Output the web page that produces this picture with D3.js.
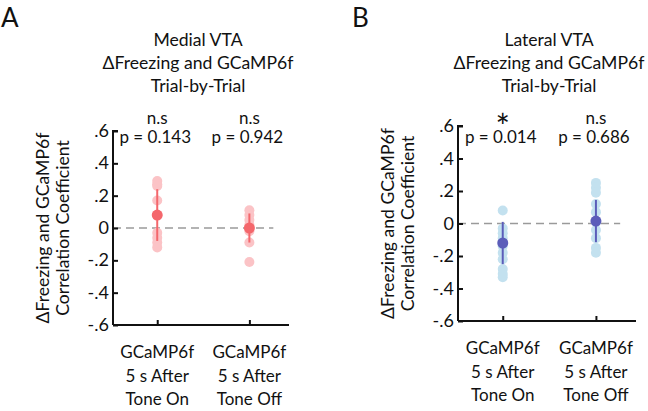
<!DOCTYPE html>
<html>
<head>
<meta charset="utf-8">
<script src="https://cdn.jsdelivr.net/npm/d3@7"></script>
<style>
  html, body { margin: 0; padding: 0; background: #fff; }
  svg { display: block; }
  text { font-family: Lato, "Open Sans", sans-serif; fill: #111; }
</style>
</head>
<body>
<svg id="chart" width="648" height="411"></svg>
<script>
// ---------- data ----------
const categories = ["GCaMP6f|5 s After|Tone On", "GCaMP6f|5 s After|Tone Off"];
const yTicks = [-0.6, -0.4, -0.2, 0, 0.2, 0.4, 0.6];
const yTickLabels = ["-.6", "-.4", "-.2", "0", ".2", ".4", ".6"];

const medialToneOn  = [0.29, 0.27, 0.26, 0.17, 0.08, -0.03, -0.06, -0.09, -0.12];
const medialToneOff = [0.11, 0.08, 0.05, 0.02, 0.0, -0.02, -0.09, -0.21];
const medialMean = [0.08, 0.0];
const medialErr  = [0.16, 0.09];
const medialSig  = ["n.s", "n.s"];
const medialP    = ["p = 0.143", "p = 0.942"];

const lateralToneOn  = [0.08, -0.03, -0.06, -0.09, -0.14, -0.18, -0.22, -0.28, -0.31, -0.33];
const lateralToneOff = [0.25, 0.22, 0.19, 0.12, 0.07, 0.01, -0.04, -0.09, -0.15, -0.18];
const lateralMean = [-0.12, 0.015];
const lateralErr  = [0.13, 0.13];
const lateralSig  = ["*", "n.s"];
const lateralP    = ["p = 0.014", "p = 0.686"];

const titlesA = ["Medial VTA", "\u0394Freezing and GCaMP6f", "Trial-by-Trial"];
const titlesB = ["Lateral VTA", "\u0394Freezing and GCaMP6f", "Trial-by-Trial"];
const yLabel = ["\u0394Freezing and GCaMP6f", "Correlation Coefficient"];

// ---------- drawing ----------
const svg = d3.select("#chart");
const FS = 17;

function panel(cfg) {
  const g = svg.append("g");
  const x = d3.scaleLinear().domain([0.52, 2.43]).range([cfg.x0, cfg.x1]);
  const y = d3.scaleLinear().domain([-0.6, 0.6]).range([cfg.yBot, cfg.yTop]);

  // panel letter
  g.append("text").attr("x", cfg.letterX).attr("y", 27)
    .attr("font-size", 26).text(cfg.letter);

  // title
  cfg.titles.forEach((t, i) => {
    g.append("text").attr("x", cfg.titleX).attr("y", 46 + i * 23)
      .attr("text-anchor", "middle").attr("font-size", 17.6).text(t);
  });

  // zero dashed line
  g.append("line")
    .attr("x1", x(0.52)).attr("x2", x(2.26))
    .attr("y1", y(0)).attr("y2", y(0))
    .attr("stroke", "#9a9a9a").attr("stroke-width", 1.4)
    .attr("stroke-dasharray", "8,5");

  // y axis (ticks inward)
  const yAxis = d3.axisRight(y).tickValues(yTicks).tickSize(5).tickFormat("");
  const ya = g.append("g").attr("transform", `translate(${cfg.x0},0)`).call(yAxis);
  ya.select(".domain").attr("stroke", "#111").attr("stroke-width", 2)
    .attr("d", `M5,${cfg.yTop}H0V${cfg.yBot}`);
  ya.selectAll(".tick line").attr("stroke", "#111").attr("stroke-width", 2);
  yTicks.forEach((v, i) => {
    g.append("text").attr("x", cfg.x0 - 4).attr("y", y(v) + 6)
      .attr("text-anchor", "end").attr("font-size", 18).text(yTickLabels[i]);
  });

  // x axis (ticks inward)
  const xAxis = d3.axisTop(x).tickValues([1, 2]).tickSize(5).tickFormat("");
  const xa = g.append("g").attr("transform", `translate(0,${cfg.yBot})`).call(xAxis);
  xa.select(".domain").attr("stroke", "#111").attr("stroke-width", 2)
    .attr("d", `M${cfg.x0},0H${cfg.x1}`);
  xa.selectAll(".tick line").attr("stroke", "#111").attr("stroke-width", 2);

  // category labels
  categories.forEach((c, i) => {
    c.split("|").forEach((line, j) => {
      g.append("text").attr("x", x(i + 1)).attr("y", cfg.yBot + 33 + j * 23.5)
        .attr("text-anchor", "middle").attr("font-size", FS).text(line);
    });
  });

  // y label
  yLabel.forEach((line, j) => {
    g.append("text")
      .attr("transform", `translate(${cfg.x0 - 64 + j * 20},${(cfg.yTop + cfg.yBot) / 2}) rotate(-90)`)
      .attr("text-anchor", "middle").attr("font-size", 17.6).text(line);
  });

  // individual points
  [cfg.on, cfg.off].forEach((vals, i) => {
    g.selectAll(null).data(vals).enter().append("circle")
      .attr("cx", x(i + 1)).attr("cy", d => y(d)).attr("r", 5)
      .attr("fill", cfg.light);
  });

  // mean +/- error
  cfg.mean.forEach((m, i) => {
    g.append("line").attr("x1", x(i + 1)).attr("x2", x(i + 1))
      .attr("y1", y(m - cfg.err[i])).attr("y2", y(m + cfg.err[i]))
      .attr("stroke", cfg.dark).attr("stroke-width", 2);
    g.append("circle").attr("cx", x(i + 1)).attr("cy", y(m)).attr("r", 5.5)
      .attr("fill", cfg.dark);
  });

  // significance + p values
  cfg.sig.forEach((s, i) => {
    if (s === "*") {
      g.append("text").attr("x", x(i + 1)).attr("y", 139)
        .attr("text-anchor", "middle").attr("font-size", 34).text(s);
    } else {
      g.append("text").attr("x", x(i + 1)).attr("y", 124)
        .attr("text-anchor", "middle").attr("font-size", FS).text(s);
    }
    g.append("text").attr("x", x(i + 1) - 2).attr("y", 143)
      .attr("text-anchor", "middle").attr("font-size", FS).text(cfg.p[i]);
  });
}

panel({
  letter: "A", letterX: 1, titleX: 198, titles: titlesA,
  x0: 113, x1: 289, yTop: 131, yBot: 325,
  on: medialToneOn, off: medialToneOff, mean: medialMean, err: medialErr,
  sig: medialSig, p: medialP, light: "#fbc3c6", dark: "#f4676c"
});
panel({
  letter: "B", letterX: 352, titleX: 549, titles: titlesB,
  x0: 458, x1: 636, yTop: 126, yBot: 321,
  on: lateralToneOn, off: lateralToneOff, mean: lateralMean, err: lateralErr,
  sig: lateralSig, p: lateralP, light: "#c3e1ef", dark: "#5b5db9"
});
</script>
</body>
</html>
